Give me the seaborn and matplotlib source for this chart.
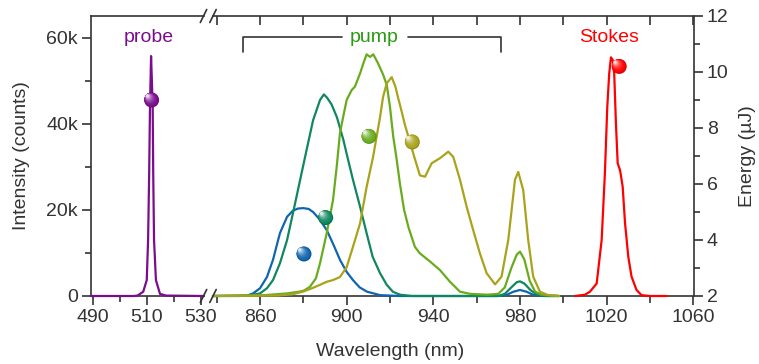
import matplotlib
matplotlib.use("Agg")
import matplotlib.pyplot as plt
import seaborn as sns
import pandas as pd
from matplotlib import transforms
from matplotlib.ticker import MultipleLocator, FuncFormatter
from matplotlib.colors import to_rgb
from matplotlib.lines import Line2D

# ---------------- data ----------------
probe_nm = [489.3, 505.0, 506.5, 508.6, 509.9, 510.4, 510.8, 511.1, 511.5, 511.8,
            512.1, 512.3, 512.6, 513.3, 514.8, 517.0, 531.1]
probe_k = [0, 0, 0.1, 1.0, 3.7, 13, 28.5, 43.9, 55.7, 50, 43.9, 28.5, 13, 3.7, 0.5, 0.1, 0]

blue_nm = [838.3, 850, 854, 856.8, 860, 863.2, 866, 869.2, 872.5, 875.2, 877.5, 880,
           882.5, 884.5, 887.5, 890.8, 894, 896.9, 900, 902.9, 906, 909.4, 915.4, 925,
           970, 974, 977, 980, 983, 986, 990, 998]
blue_k = [0, 0, 0.1, 0.6, 1.8, 4.4, 8.4, 14.6, 18.4, 19.8, 20.3, 20.4, 20.2, 19.5, 17.8,
          15.3, 11.8, 8.4, 5.6, 3.7, 2.0, 1.0, 0.2, 0, 0, 0.3, 1.0, 1.4, 1.0, 0.3, 0, 0]

teal_nm = [838.3, 855, 860, 863.2, 866, 869.2, 872.5, 875.2, 878.5, 881.5, 884.5, 887.7,
           889.5, 891, 893, 895.5, 898.5, 900, 902.9, 906.2, 909.2, 912, 915.4, 918.5,
           921.3, 924.6, 930, 970, 973, 976, 978.5, 980, 982, 985, 988, 992, 998]
teal_k = [0, 0.1, 0.6, 1.8, 3.7, 7.6, 13, 19.2, 26.9, 33.9, 40.8, 45.5, 46.8, 46, 44.5,
          41.5, 36.2, 33, 27, 20.7, 14.6, 9.1, 5.3, 2.6, 1.0, 0.3, 0, 0, 0.5, 2.0, 3.2,
          3.4, 2.9, 1.3, 0.3, 0, 0]

green_nm = [838.3, 862, 872.5, 878, 880, 883, 885.8, 887.7, 890.8, 893.7, 895.4, 896.9,
            898.4, 900, 902.3, 903.8, 906.2, 907.7, 909.2, 910.8, 912.3, 914.5, 916.9,
            918.5, 920, 921.5, 923, 924.6, 926.5, 928.5, 931.5, 933.8, 938.5, 943.1,
            947.7, 952.3, 956.9, 965, 970, 973, 976, 978.5, 980, 982, 984.5, 987, 990, 998]
green_k = [0, 0.2, 0.6, 1.0, 1.2, 2.1, 4.1, 7.6, 14.6, 22.3, 30, 37.8, 41.6, 45.5, 47.8,
           48.6, 51.7, 54, 56.1, 55.5, 56.1, 54, 51.3, 49, 43.9, 37, 32, 26, 20, 16, 11.4,
           9.9, 8, 6, 3.3, 1, 0.5, 0.3, 0.5, 2, 6.5, 9.6, 10.3, 8.5, 3.5, 1.0, 0.3, 0]

olive_nm = [838.3, 868, 875, 879.8, 884, 887.7, 890.8, 893.7, 896.9, 900, 902.9, 906.2,
            909.2, 912.2, 915.4, 916.8, 918.5, 920.8, 922.5, 923.8, 925.4, 926.9, 928.5,
            931.2, 933.8, 936.2, 939.2, 943.1, 946.9, 949.2, 952.3, 955.4, 958.4, 961.5,
            964.6, 968.5, 971.5, 974.6, 977.7, 979.2, 981.5, 983.8, 986.1, 989.2, 993, 998]
olive_k = [0, 0.1, 0.4, 1.0, 1.8, 2.6, 3.3, 3.7, 4.4, 6.7, 11.4, 16.9, 25.3, 32.3, 41.5,
           46.2, 49.4, 50.8, 48.6, 45.9, 42.8, 39.7, 37, 32.3, 28, 27.7, 30.8, 32, 33.5,
           32.3, 27, 20.7, 15.3, 9.9, 5.3, 2.7, 4.5, 13, 27, 28.8, 24.6, 13, 4.5, 1, 0.2, 0]

stokes_nm = [1005.4, 1010, 1012.3, 1015.4, 1017.7, 1019.2, 1020.3, 1021.2, 1022.0, 1022.8,
             1023.5, 1024.3, 1025.1, 1026.2, 1027.4, 1028.5, 1030.0, 1031.5, 1033.8,
             1036.1, 1040, 1047.7]
stokes_k = [0, 0.3, 1.0, 2.9, 13, 28.5, 43.9, 51.7, 55.4, 54.8, 51.7, 40, 30.8, 29.2, 25.4,
            16.9, 9.1, 4.5, 1.4, 0.2, 0, 0]

# pulse energies (spheres): wavelength (nm), energy (uJ)
marker_names = ["probe", "blue", "teal", "green", "olive", "Stokes"]
marker_nm = [511.7, 880.3, 890.3, 910.3, 930.3, 1025.8]
marker_uJ = [9.0, 3.5, 4.8, 7.7, 7.5, 10.2]

left_ticks = [0, 20000, 40000, 60000]
seg1_ticks = [490, 510, 530]
seg2_ticks = [860, 900, 940, 980, 1020, 1060]
energy_ticks = [2, 4, 6, 8, 10, 12]

# ---------------- style ----------------
sns.set_theme(style="ticks")
plt.rcParams["font.family"] = ["Liberation Sans", "DejaVu Sans"]
plt.rcParams["axes.linewidth"] = 1.2

C = dict(probe="#7B0C8D", blue="#0F65AE", teal="#10875E", green="#68AC1E",
         olive="#A9A31C", Stokes="#FF0000")
PUMP_TXT = "#2B9A12"
INK = "#333333"
FS = 14

W, H = 759, 364
fig = plt.figure(figsize=(W / 100, H / 100), dpi=100)


def pxbox(l, t, r, b):
    return [l / W, 1 - b / H, (r - l) / W, (b - t) / H]


ax1 = fig.add_axes(pxbox(91, 16, 204, 296))
ax2 = fig.add_axes(pxbox(213, 16, 693.5, 296))
ax1.set_xlim(489.26, 531.1)
ax2.set_xlim(838.3, 1060.1)
for ax in (ax1, ax2):
    ax.set_ylim(0, 65000)
    ax.set_facecolor("none")
    for s in ax.spines.values():
        s.set_color(INK)
        s.set_linewidth(1.2)

ax1.spines["right"].set_visible(False)
ax2.spines["left"].set_visible(False)
ax2.spines["right"].set_visible(False)


def line(ax, x, yk, color):
    df = pd.DataFrame({"nm": x, "I": [v * 1000 for v in yk]})
    sns.lineplot(data=df, x="nm", y="I", ax=ax, color=color, lw=1.6,
                 estimator=None, sort=False, clip_on=False, zorder=3)


line(ax1, probe_nm, probe_k, C["probe"])
line(ax2, blue_nm, blue_k, C["blue"])
line(ax2, teal_nm, teal_k, C["teal"])
line(ax2, green_nm, green_k, C["green"])
line(ax2, olive_nm, olive_k, C["olive"])
line(ax2, stokes_nm, stokes_k, C["Stokes"])

# ticks
ax1.yaxis.set_major_locator(plt.FixedLocator(left_ticks))
ax1.yaxis.set_minor_locator(MultipleLocator(10000))
ax1.yaxis.set_major_formatter(FuncFormatter(lambda v, p: "0" if v == 0 else f"{int(v/1000)}k"))
ax1.xaxis.set_major_locator(plt.FixedLocator(seg1_ticks))
ax1.xaxis.set_minor_locator(MultipleLocator(10))
ax2.xaxis.set_major_locator(plt.FixedLocator(seg2_ticks))
ax2.xaxis.set_minor_locator(MultipleLocator(20))
ax2.set_yticks([])

ax1.tick_params(axis="both", which="major", length=6.5, width=1.2, colors=INK,
                labelsize=FS, direction="out", pad=3)
ax1.tick_params(axis="both", which="minor", length=4, width=1.2, colors=INK, direction="out")
ax2.tick_params(axis="x", which="major", length=6.5, width=1.2, colors=INK,
                labelsize=FS, direction="out", pad=3)
ax2.tick_params(axis="x", which="minor", length=5, width=1.2, colors=INK, direction="out")
ax2.tick_params(axis="x", which="both", top=True)
# top ticks inward: emulate using secondary ticks
ax2top = ax2.secondary_xaxis("top")
ax2top.xaxis.set_major_locator(MultipleLocator(20))
ax2top.tick_params(axis="x", which="major", direction="in", length=6.5, width=1.2,
                   colors=INK, labeltop=False)
ax2top.spines["top"].set_visible(False)
ax2.tick_params(axis="x", which="both", top=False)
for ax in (ax1, ax2):
    ax.set_xlabel("")
    ax.set_ylabel("")

# energy axes
ax1t = ax1.twinx()
ax1t.set_ylim(2, 12)
ax1t.axis("off")
ax2t = ax2.twinx()
ax2t.set_ylim(2, 12)
for k, s in ax2t.spines.items():
    s.set_visible(k == "right")
    s.set_color(INK)
    s.set_linewidth(1.2)
ax2t.yaxis.set_major_locator(plt.FixedLocator(energy_ticks))
ax2t.yaxis.set_minor_locator(MultipleLocator(1))
ax2t.tick_params(axis="y", which="major", length=6.5, width=1.2, colors=INK,
                 labelsize=FS, pad=3)
ax2t.tick_params(axis="y", which="minor", length=4, width=1.2, colors=INK)


def sphere(ax, x, y, color, d=15):
    base = to_rgb(color)
    n = 10
    for k in range(n):
        f = k / (n - 1)
        size = d * (1 - 0.8 * f)
        off = 0.28 * d * f
        tr = transforms.offset_copy(ax.transData, fig=fig, x=-off, y=off, units="dots")
        if k == 0:
            col = tuple(c * 0.85 for c in base)
        else:
            mix = 0.85 * f ** 2.2
            col = tuple(c * (1 - mix) + mix for c in base)
        ax.scatter([x], [y], s=(size * 0.72) ** 2, color=[col], edgecolors="none",
                   transform=tr, zorder=5 + k, clip_on=False)


for name, x, e in zip(marker_names, marker_nm, marker_uJ):
    sphere(ax1t if name == "probe" else ax2t, x, e, C[name])

# labels
ax1.text(510.6, 0.925, "probe", color=C["probe"], fontsize=FS, ha="center", va="center",
         transform=ax1.get_xaxis_transform())
ax2.text(1021.0, 0.925, "Stokes", color=C["Stokes"], fontsize=FS, ha="center", va="center",
         transform=ax2.get_xaxis_transform())
ax2.text(912.6, 0.925, "pump", color=PUMP_TXT, fontsize=FS, ha="center", va="center",
         transform=ax2.get_xaxis_transform())
bt = ax2.get_xaxis_transform()
ax2.plot([852.2, 852.2, 898.0], [0.871, 0.926, 0.926], color=INK, lw=1.2, transform=bt,
         clip_on=False)
ax2.plot([928.4, 971.2, 971.2], [0.926, 0.926, 0.871], color=INK, lw=1.2, transform=bt,
         clip_on=False)

fig.text(390 / W, 1 - 351 / H, "Wavelength (nm)", ha="center", va="center", fontsize=FS,
         color=INK)
fig.text(22 / W, 1 - 156 / H, "Intensity (counts)", ha="center", va="center", fontsize=FS,
         rotation=90, color=INK)
fig.text(748 / W, 1 - 156 / H, "Energy (\u00b5J)", ha="center", va="center", fontsize=FS,
         rotation=90, color=INK)

# axis break marks
for yb in (16, 296):
    for cx in (203.5, 213.0):
        fig.add_artist(Line2D([(cx - 3.2) / W, (cx + 3.2) / W],
                              [1 - (yb + 6.5) / H, 1 - (yb - 6.5) / H],
                              color=INK, lw=1.2, transform=fig.transFigure))

fig.savefig("out.png", dpi=100)
